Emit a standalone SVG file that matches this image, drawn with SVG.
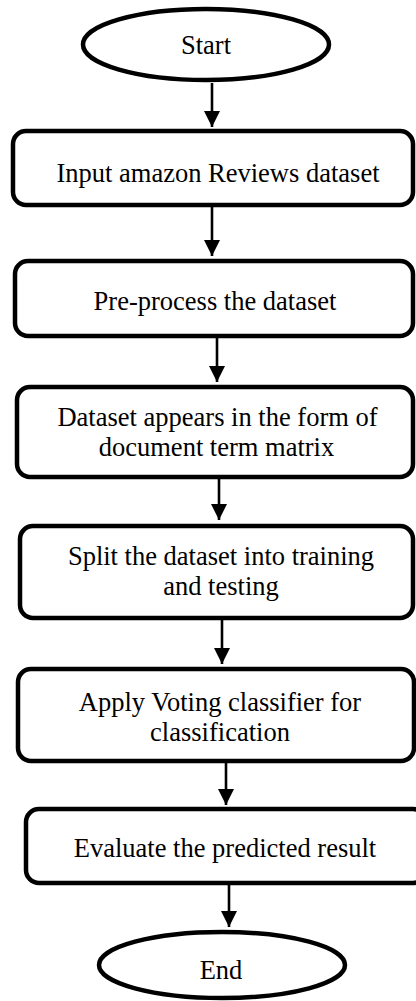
<svg xmlns="http://www.w3.org/2000/svg" width="416" height="1001" viewBox="0 0 416 1001">
<defs>
<style>
.box{fill:#fff;stroke:#000;stroke-width:4.5}
.t{font-family:"Liberation Serif","Times New Roman",serif;font-size:26.5px;fill:#000;text-anchor:middle}
.c{stroke:#000;stroke-width:2.6;fill:none}
</style>
<marker id="ah" markerUnits="userSpaceOnUse" markerWidth="17" markerHeight="16" refX="16" refY="8" orient="auto">
<path d="M0,0 L16,8 L0,16 Z" fill="#000"/>
</marker>
</defs>
<rect width="416" height="1001" fill="#fff"/>
<g id="connectors">
<line class="c" x1="212" y1="83" x2="212" y2="127" marker-end="url(#ah)"/>
<line class="c" x1="212" y1="207" x2="212" y2="256" marker-end="url(#ah)"/>
<line class="c" x1="217" y1="338" x2="217" y2="382" marker-end="url(#ah)"/>
<line class="c" x1="219" y1="479" x2="219" y2="520" marker-end="url(#ah)"/>
<line class="c" x1="222" y1="620" x2="222" y2="664" marker-end="url(#ah)"/>
<line class="c" x1="226" y1="763" x2="226" y2="805" marker-end="url(#ah)"/>
<line class="c" x1="229" y1="885" x2="229" y2="927" marker-end="url(#ah)"/>
</g>
<g id="start">
<ellipse class="box" cx="206" cy="44.5" rx="123" ry="35.5"/>
<text class="t" x="206" y="54">Start</text>
</g>
<g id="input">
<rect class="box" x="13" y="131" width="400" height="74" rx="13"/>
<text class="t" x="218" y="182">Input amazon Reviews dataset</text>
</g>
<g id="preprocess">
<rect class="box" x="15" y="261" width="398" height="75" rx="13"/>
<text class="t" x="215" y="310">Pre-process the dataset</text>
</g>
<g id="dtm">
<rect class="box" x="17" y="387" width="396" height="90" rx="13"/>
<text class="t" x="217.5" y="426">Dataset appears in the form of</text>
<text class="t" x="216.5" y="456">document term matrix</text>
</g>
<g id="split">
<rect class="box" x="20" y="526" width="393" height="92" rx="13"/>
<text class="t" x="221" y="565">Split the dataset into training</text>
<text class="t" x="221" y="595">and testing</text>
</g>
<g id="voting">
<rect class="box" x="18" y="669" width="396" height="92" rx="13"/>
<text class="t" x="220" y="711">Apply Voting classifier for</text>
<text class="t" x="220" y="741">classification</text>
</g>
<g id="evaluate">
<rect class="box" x="26" y="809" width="400" height="74" rx="13"/>
<text class="t" x="225" y="857">Evaluate the predicted result</text>
</g>
<g id="end">
<ellipse class="box" cx="222" cy="965" rx="123" ry="33"/>
<text class="t" x="221" y="979">End</text>
</g>
</svg>
